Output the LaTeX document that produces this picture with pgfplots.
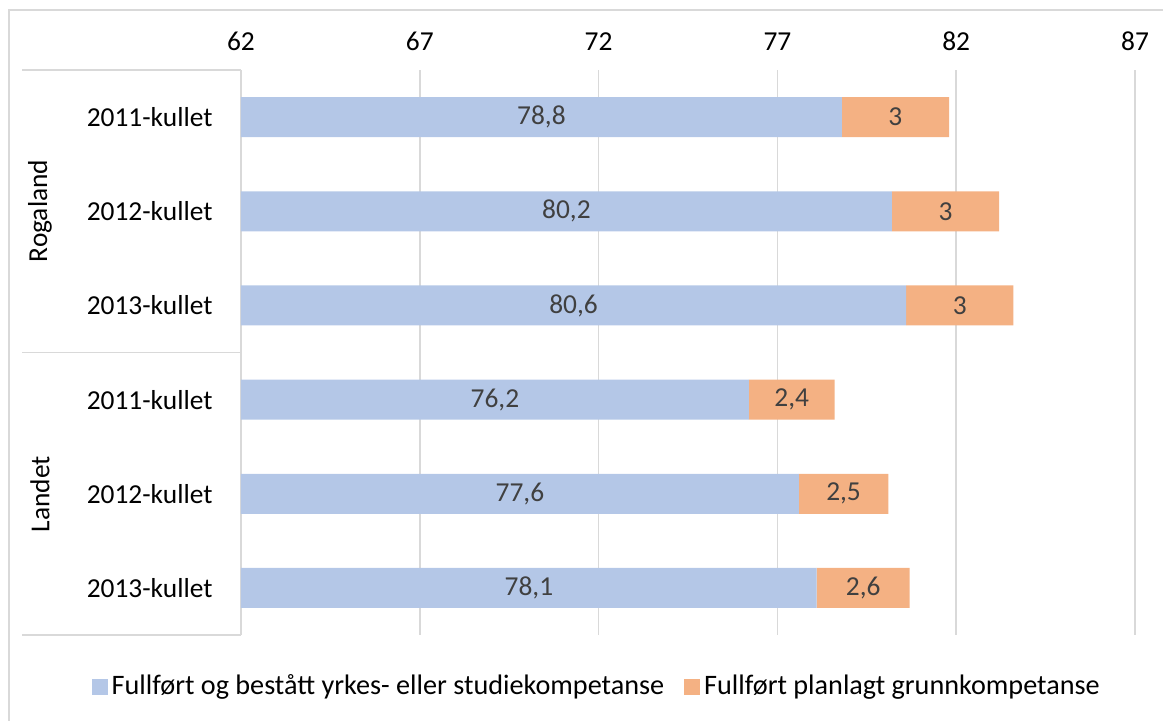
\documentclass[border=0pt]{standalone}
\usepackage{pgfplots}
\pgfplotsset{compat=1.18}
\usepackage{fontspec}
\setmainfont{Carlito}
\definecolor{barblue}{HTML}{B4C7E7}
\definecolor{barorange}{HTML}{F4B183}
\definecolor{gridgray}{HTML}{D9D9D9}
\definecolor{txt}{HTML}{404040}
\newcommand{\chartfont}{\fontsize{13.7}{16}\selectfont}
\begin{document}
\chartfont
\begin{tikzpicture}
% image px (X,Y) -> ((X-241)*0.5pt, (635-Y)*0.5pt)
\path[use as bounding box] (-120.5pt,-42.5pt) rectangle (461pt,317.5pt);
\draw[gridgray, line width=0.8pt] (-116pt,-43pt) -- (-116pt,312.5pt) -- (462pt,312.5pt);
\pgfplotsset{common/.style={
  scale only axis,
  width=447pt, height=282.5pt,
  xmin=62, xmax=87,
  ymin=-0.5, ymax=5.5, y dir=reverse,
  clip=false,
  font=\chartfont,
}}
\begin{axis}[
  common,
  xbar stacked, bar width=20pt,
  xtick={62,67,...,87},
  xticklabel pos=top,
  xticklabel style={yshift=5pt, text=black},
  ytick={0,...,5},
  yticklabels={2011-kullet,2012-kullet,2013-kullet,2011-kullet,2012-kullet,2013-kullet},
  yticklabel style={anchor=east, xshift=-9.5pt, text=black},
  major tick length=0pt,
  axis line style={draw=none},
  xmajorgrids, grid style={gridgray, line width=0.8pt},
  /pgf/number format/assume math mode=true,
  legend style={at={(0.399,-0.092)}, anchor=center, draw=none, legend columns=2,
    font=\fontsize{14.1}{16}\selectfont,
    /tikz/every even column/.append style={column sep=8pt}},
  legend image code/.code={\fill[#1] (0pt,-4pt) rectangle (8pt,4pt);},
]
\addplot[fill=barblue, draw=none]
  coordinates {(78.8,0) (80.2,1) (80.6,2) (76.2,3) (77.6,4) (78.1,5)};
\addlegendentry{Fullført og bestått yrkes- eller studiekompetanse}
\addplot[fill=barorange, draw=none]
  coordinates {(3,0) (3,1) (3,2) (2.4,3) (2.5,4) (2.6,5)};
\addlegendentry{Fullført planlagt grunnkompetanse}
\draw[gridgray, line width=0.8pt] (rel axis cs:0,0) -- (rel axis cs:0,1);
\draw[gridgray, line width=0.8pt] (rel axis cs:0,1) -- ++(-109.5pt,0pt);
\draw[gridgray, line width=0.8pt] (rel axis cs:0,0.5) -- ++(-109.5pt,0pt);
\draw[gridgray, line width=0.8pt] (rel axis cs:0,0) -- ++(-109.5pt,0pt);
\end{axis}
% data labels, centred in the visible part of each segment
\begin{axis}[common, hide axis]
\addplot[draw=none, mark=none, nodes near coords, point meta=explicit symbolic,
  every node near coord/.style={anchor=center, text=txt, font=\chartfont}]
  table[meta=lab] {
x      y  lab
70.40  0  78,8
71.10  1  80,2
71.30  2  80,6
69.10  3  76,2
69.80  4  77,6
70.05  5  78,1
80.30  0  3
81.70  1  3
82.10  2  3
77.40  3  2,4
78.85  4  2,5
79.40  5  2,6
};
\end{axis}
\node[rotate=90, anchor=center] at (-100.5pt,212pt) {Rogaland};
\node[rotate=90, anchor=center] at (-100.5pt,70.5pt) {Landet};
\end{tikzpicture}
\end{document}
